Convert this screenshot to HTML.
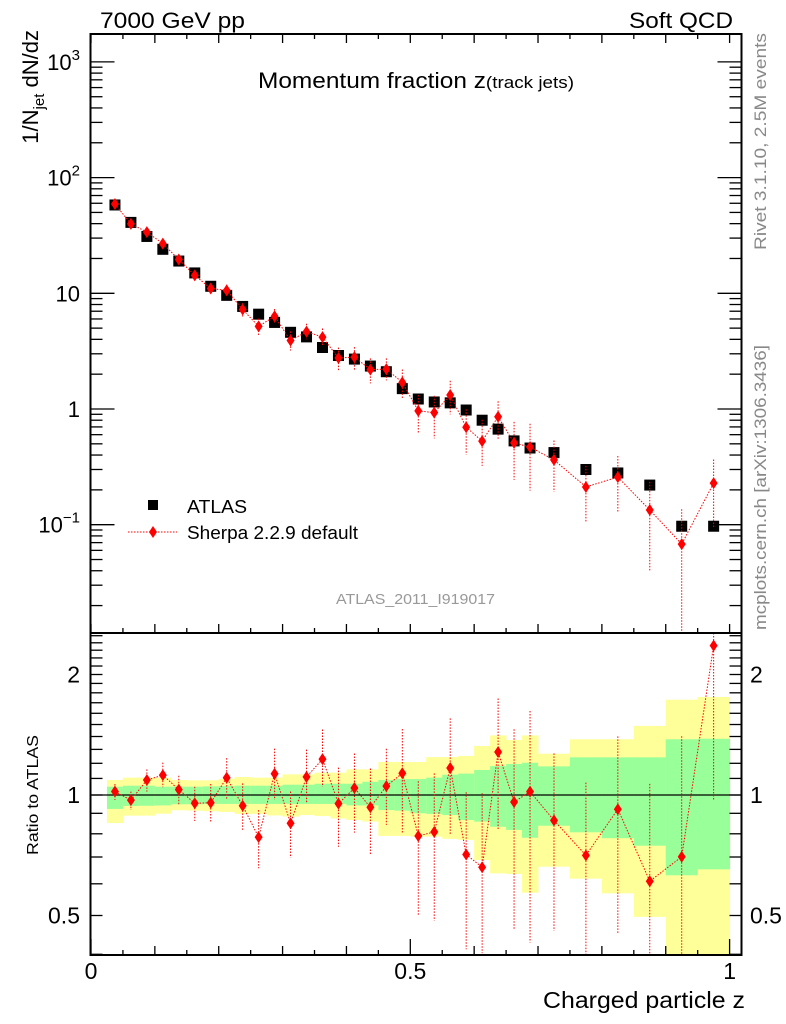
<!DOCTYPE html>
<html><head><meta charset="utf-8">
<style>
html,body{margin:0;padding:0;background:#fff;}
svg{display:block;font-family:"Liberation Sans",sans-serif;}
</style></head>
<body>
<svg id="chart" width="786" height="1024" viewBox="0 0 786 1024" xmlns="http://www.w3.org/2000/svg">
  <g id="bands"></g>
  <g id="marks"></g>
  <g id="axes"></g>
  <text x="100" y="28" font-size="22" textLength="145" lengthAdjust="spacingAndGlyphs">7000 GeV pp</text>
  <text x="733" y="28" font-size="22" text-anchor="end" textLength="104" lengthAdjust="spacingAndGlyphs">Soft QCD</text>
  <text x="258" y="88" font-size="22" textLength="316" lengthAdjust="spacingAndGlyphs">Momentum fraction z<tspan font-size="17">(track jets)</tspan></text>
  <text transform="translate(38,30) rotate(-90)" font-size="22" text-anchor="end">1/N<tspan font-size="15" dy="6">jet</tspan><tspan dy="-6"> dN/dz</tspan></text>
  <text transform="translate(38,795) rotate(-90)" font-size="16" text-anchor="middle" textLength="120" lengthAdjust="spacingAndGlyphs">Ratio to ATLAS</text>
  <text x="745" y="1008" font-size="23" text-anchor="end" textLength="202" lengthAdjust="spacingAndGlyphs">Charged particle z</text>
  <text transform="translate(766,250) rotate(-90)" font-size="17" fill="#888" textLength="217" lengthAdjust="spacingAndGlyphs">Rivet 3.1.10,  2.5M events</text>
  <text transform="translate(766,630) rotate(-90)" font-size="17" fill="#888" textLength="285" lengthAdjust="spacingAndGlyphs">mcplots.cern.ch [arXiv:1306.3436]</text>
  <text x="336" y="604" font-size="15" fill="#999" textLength="159" lengthAdjust="spacingAndGlyphs">ATLAS_2011_I919017</text>
  <g>
    <g>
      <rect x="148" y="500" width="10" height="10" fill="#000"/>
      <text x="187" y="513" font-size="18" textLength="60" lengthAdjust="spacingAndGlyphs">ATLAS</text>
    </g>
    <g>
      <line x1="128" y1="532" x2="177" y2="532" stroke="red" stroke-width="1" stroke-dasharray="1.5,1.5"/>
      <polygon points="153,526 157,532 153,538 149,532" fill="red"/>
      <text x="187" y="539" font-size="18" textLength="171" lengthAdjust="spacingAndGlyphs">Sherpa 2.2.9 default</text>
    </g>
  </g>
</svg>
<script>
const edges=[0.025,0.05,0.075,0.1,0.125,0.15,0.175,0.2,0.225,0.25,0.275,0.3,0.325,0.35,0.375,0.4,0.425,0.45,0.475,0.5,0.525,0.55,0.575,0.6,0.625,0.65,0.675,0.7,0.75,0.8,0.85,0.9,0.95,1.0];
const atlasVals=[58,41,31,24,19,15,11.5,9.6,7.7,6.6,5.6,4.6,4.2,3.4,2.9,2.7,2.35,2.1,1.5,1.22,1.15,1.13,0.98,0.80,0.67,0.53,0.46,0.42,0.30,0.28,0.22,0.097,0.097];
const sherpaVals=[59.2,39.8,33.8,26.9,19.6,14.3,11.0,10.6,7.24,5.18,6.33,3.91,4.66,4.18,2.76,2.81,2.19,2.21,1.70,0.964,0.93,1.32,0.696,0.528,0.858,0.509,0.469,0.363,0.212,0.258,0.134,0.068,0.229];
const sherpaRelUp=[0.044,0.05,0.063,0.075,0.083,0.10,0.114,0.12,0.137,0.168,0.155,0.2,0.17,0.186,0.23,0.22,0.25,0.24,0.29,0.37,0.4,0.33,0.43,0.53,0.36,0.52,0.59,0.47,0.52,0.52,0.75,1.0,0.6];
const sherpaRelDn=[0.048,0.055,0.065,0.067,0.085,0.097,0.103,0.117,0.13,0.164,0.14,0.18,0.14,0.147,0.22,0.226,0.24,0.2,0.29,0.37,0.4,0.32,0.42,0.39,0.36,0.52,0.58,0.47,0.5,0.51,0.7,0.99,0.59];
const bandYellowHi=[1.090,1.105,1.105,1.105,1.090,1.088,1.088,1.098,1.109,1.105,1.105,1.126,1.126,1.137,1.137,1.159,1.159,1.209,1.209,1.209,1.244,1.244,1.252,1.326,1.409,1.372,1.409,1.268,1.378,1.378,1.488,1.730,1.757];
const bandGreenHi=[1.049,1.055,1.055,1.049,1.049,1.049,1.051,1.053,1.055,1.055,1.055,1.061,1.061,1.067,1.067,1.067,1.079,1.090,1.096,1.096,1.105,1.124,1.131,1.155,1.181,1.195,1.204,1.179,1.242,1.242,1.242,1.378,1.382];
const bandGreenLo=[0.923,0.939,0.940,0.942,0.948,0.948,0.950,0.950,0.950,0.950,0.950,0.950,0.950,0.950,0.950,0.942,0.942,0.917,0.914,0.900,0.897,0.891,0.866,0.858,0.833,0.818,0.782,0.838,0.807,0.780,0.747,0.630,0.652];
const bandYellowLo=[0.851,0.888,0.888,0.898,0.916,0.914,0.911,0.907,0.897,0.897,0.889,0.883,0.891,0.886,0.874,0.866,0.858,0.790,0.790,0.787,0.787,0.777,0.772,0.688,0.637,0.635,0.570,0.662,0.618,0.568,0.496,0.35,0.35];
const mainTickLabels=["10\u207B\u00B9","1","10","10\u00B2","10\u00B3"];
const mainTickVals=[0.1,1,10,100,1000];
const ratioTickLabels=["0.5","1","2"];
const ratioTickVals=[0.5,1,2];
const xTickLabels=["0","0.5","1"];
const xTickVals=[0,0.5,1];

const NS="http://www.w3.org/2000/svg";
const L=90.5,R=741.5,T=34,MB=633,BB=955;
function X(z){return 91+638.6*z;}
function Y(v){return 409-115.7*Math.log10(v);}
function YR(r){return 795-120.5*Math.log2(r);}
function mk(tag,attrs,parent){const e=document.createElementNS(NS,tag);for(const k in attrs)e.setAttribute(k,attrs[k]);parent.appendChild(e);return e;}
const bands=document.getElementById('bands'),marks=document.getElementById('marks'),axes=document.getElementById('axes');
function clampR(y){return Math.max(MB,Math.min(BB,y));}
function clampM(y){return Math.max(T,Math.min(MB,y));}

for(let i=0;i<atlasVals.length;i++){
  const x0=X(edges[i]),x1=X(edges[i+1]);
  const yb=mk('rect',{x:x0,y:clampR(YR(bandYellowHi[i])),width:x1-x0+0.5,height:clampR(YR(bandYellowLo[i]))-clampR(YR(bandYellowHi[i])),fill:'#ffff99'},bands);
  
  
  const gb=mk('rect',{x:x0,y:clampR(YR(bandGreenHi[i])),width:x1-x0+0.5,height:clampR(YR(bandGreenLo[i]))-clampR(YR(bandGreenHi[i])),fill:'#99ff99'},bands);
  
  
}
const one=mk('line',{x1:L,x2:R,y1:YR(1),y2:YR(1),stroke:'#000','stroke-width':1.2},marks);



const dash='1.5,1.5';
function diamond(cx,cy){return `${cx},${cy-6} ${cx+4},${cy} ${cx},${cy+6} ${cx-4},${cy}`;}
let pts=[],rpts=[];
for(let i=0;i<atlasVals.length;i++){
  const c=(edges[i]+edges[i+1])/2,x=X(c);
  const s=sherpaVals[i],ya=Y(atlasVals[i]),ys=Y(s);
  const yu=clampM(Y(s*(1+sherpaRelUp[i]))),yd=clampM(Y(Math.max(1e-4,s*(1-sherpaRelDn[i]))));
  const sq=mk('rect',{x:x-5.5,y:ya-5.5,width:11,height:11,fill:'#000'},marks);
  
  
  const eb=mk('line',{x1:x,x2:x,y1:yu,y2:yd,stroke:'red','stroke-width':1,'stroke-dasharray':dash},marks);
  
  
  pts.push(x+','+ys);
  const r=s/atlasVals[i],yr=YR(r);
  const ru=clampR(YR(r*(1+sherpaRelUp[i]))),rd=clampR(YR(Math.max(0.01,r*(1-sherpaRelDn[i]))));
  const reb=mk('line',{x1:x,x2:x,y1:ru,y2:rd,stroke:'red','stroke-width':1,'stroke-dasharray':dash},marks);
  
  
  rpts.push(x+','+yr);
}
const ln=mk('polyline',{points:pts.join(' '),fill:'none',stroke:'red','stroke-width':1,'stroke-dasharray':dash},marks);


const rln=mk('polyline',{points:rpts.join(' '),fill:'none',stroke:'red','stroke-width':1,'stroke-dasharray':dash},marks);


for(let i=0;i<atlasVals.length;i++){
  const c=(edges[i]+edges[i+1])/2,x=X(c);
  const d=mk('polygon',{points:diamond(x,Y(sherpaVals[i])),fill:'red'},marks);
  
  
  const ry=YR(sherpaVals[i]/atlasVals[i]);
  if(ry>=MB-2){
    const rd=mk('polygon',{points:diamond(x,ry),fill:'red'},marks);
    
    
  }
}
const f1=mk('rect',{x:L,y:T,width:R-L,height:MB-T,fill:'none',stroke:'#000','stroke-width':2},axes);


const f2=mk('rect',{x:L,y:MB,width:R-L,height:BB-MB,fill:'none',stroke:'#000','stroke-width':2},axes);


function tick(x1,y1,x2,y2,name){const t=mk('line',{x1,y1,x2,y2,stroke:'#000','stroke-width':1.3},axes);}
for(let k=0;k<=20;k++){
  const z=k*0.05,x=X(z),maj=(k%2===0);
  const len=maj?9:5;
  tick(x,T,x,T+len,'x-tick-top');
  tick(x,MB,x,MB-len,'x-tick-mid');
  tick(x,BB,x,BB-(maj?(k%10===0?16:9):5),'x-tick-bottom');
}
xTickVals.forEach((v,i)=>{const t=mk('text',{x:X(v),y:979,'font-size':23,'text-anchor':'middle'},axes);t.textContent=xTickLabels[i];});
for(let e=-2;e<=3;e++){
  for(let m=1;m<=9;m++){
    const v=m*Math.pow(10,e),y=Y(v);
    if(y<T||y>MB)continue;
    const len=m===1?24:12;
    tick(L,y,L+len,y,'y-tick-left');tick(R,y,R-len,y,'y-tick-right');
  }
}
mainTickVals.forEach((v,i)=>{const t=mk('text',{x:80,y:Y(v)+8,'font-size':22,'text-anchor':'end'},axes);
  const lab=mainTickLabels[i];
  if(lab.startsWith('10')&&lab.length>2){t.textContent='10';const s=mk('tspan',{'font-size':15,dy:-10},t);s.textContent=lab.slice(2).replace('\u207B','\u2212').replace('\u00B9','1').replace('\u00B2','2').replace('\u00B3','3');}
  else t.textContent=lab;});
for(let k=4;k<=25;k++){
  const r=k/10,y=YR(r);if(y<MB||y>BB)continue;
  tick(L,y,L+12,y,'ratio-tick-left');tick(R,y,R-12,y,'ratio-tick-right');
}
ratioTickVals.forEach((v,i)=>{
  const a=mk('text',{x:80,y:YR(v)+8,'font-size':23,'text-anchor':'end'},axes);a.textContent=ratioTickLabels[i];
  const b=mk('text',{x:750,y:YR(v)+8,'font-size':23},axes);b.textContent=ratioTickLabels[i];
});
</script>
</body></html>
